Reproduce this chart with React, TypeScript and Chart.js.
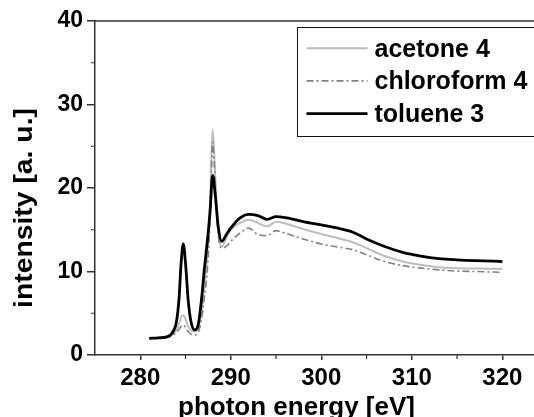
import React, { useEffect, useRef } from "react";
import { Chart, registerables } from "chart.js";

Chart.register(...registerables);

const energies = [281, 282, 283, 283.5, 284, 284.3, 284.5, 284.75, 285, 285.3, 285.6, 286, 286.4, 286.8, 287.1, 287.4, 287.7, 288, 288.3, 288.6, 289, 289.5, 290, 291, 292, 293, 294, 295, 296, 298, 300, 302, 303.5, 305, 307, 309, 311, 313, 315, 317, 320];
const acetone = [2.0, 2.05, 2.15, 2.4, 3.0, 3.8, 4.5, 4.8, 4.3, 3.4, 2.95, 2.8, 3.2, 5.5, 8.5, 12.0, 18.0, 27.0, 21.0, 15.0, 13.0, 14.0, 15.0, 15.8, 16.2, 15.8, 15.4, 15.95, 15.75, 15.1, 14.5, 13.95, 13.5, 12.8, 11.85, 11.2, 10.8, 10.5, 10.4, 10.35, 10.3];
const chloroform = [2.0, 2.0, 2.1, 2.3, 2.7, 3.1, 3.4, 3.6, 3.3, 2.8, 2.5, 2.4, 2.7, 4.5, 7.0, 10.0, 16.0, 25.5, 20.0, 14.5, 12.8, 13.0, 13.6, 14.6, 15.2, 14.4, 14.3, 14.9, 14.6, 13.9, 13.3, 12.9, 12.6, 12.0, 11.2, 10.7, 10.4, 10.2, 10.05, 10.0, 9.9];
const toluene = [2.0, 2.05, 2.2, 2.6, 4.0, 7.0, 10.8, 13.3, 11.0, 6.5, 4.0, 3.0, 3.6, 7.0, 10.5, 13.5, 17.0, 21.5, 19.0, 15.5, 13.6, 14.4, 15.2, 16.4, 16.85, 16.7, 16.25, 16.56, 16.45, 15.97, 15.57, 15.15, 14.7, 13.9, 13.0, 12.3, 11.85, 11.55, 11.4, 11.3, 11.2];

const seriesLabels = ["acetone 4", "chloroform 4", "toluene 3"];
const xTicks = [280, 290, 300, 310, 320];
const xMinorTicks = [285, 295, 305, 315];
const yTicks = [0, 10, 20, 30, 40];
const yMinorTicks = [5, 15, 25, 35];
const xTitle = "photon energy [eV]";
const yTitle = "intensity [a. u.]";

const FONT = '"Liberation Sans", Arial, sans-serif';
const AXIS = "#333";

const framePlugin = {
  id: "frame",
  afterDraw(chart: any) {
    const ctx = chart.ctx;
    const { left, right, top, bottom } = chart.chartArea;
    const xs = chart.scales.x;
    const ys = chart.scales.y;
    ctx.save();
    // top frame line
    ctx.strokeStyle = AXIS;
    ctx.lineWidth = 1.5;
    ctx.beginPath();
    ctx.moveTo(left, top);
    ctx.lineTo(right, top);
    ctx.stroke();
    // minor ticks
    ctx.lineWidth = 1.2;
    ctx.beginPath();
    xMinorTicks.forEach((v) => {
      const px = xs.getPixelForValue(v);
      ctx.moveTo(px, bottom);
      ctx.lineTo(px, bottom + 4);
    });
    yMinorTicks.forEach((v) => {
      const py = ys.getPixelForValue(v);
      ctx.moveTo(left - 4, py);
      ctx.lineTo(left, py);
    });
    ctx.stroke();
    // axis titles
    ctx.fillStyle = "#000";
    ctx.textAlign = "center";
    ctx.textBaseline = "alphabetic";
    ctx.save();
    ctx.translate(left + 201.5, chart.height - 2);
    ctx.scale(1.04, 1);
    ctx.font = `bold 25px ${FONT}`;
    ctx.fillText(xTitle, 0, 0);
    ctx.restore();
    ctx.save();
    ctx.translate(31.5, top + 187);
    ctx.rotate(-Math.PI / 2);
    ctx.scale(1.09, 1);
    ctx.font = `bold 26px ${FONT}`;
    ctx.fillText(yTitle, 0, 0);
    ctx.restore();
    // legend
    const bx = left + 202.5;
    const by = top + 6.5;
    const bh = 109;
    ctx.fillStyle = "#fff";
    ctx.fillRect(bx, by, chart.width - bx + 10, bh);
    ctx.strokeStyle = "#111";
    ctx.lineWidth = 1;
    ctx.strokeRect(bx, by, chart.width - bx + 10, bh);
    ctx.font = `bold 25px ${FONT}`;
    ctx.textAlign = "left";
    chart.data.datasets.forEach((ds: any, i: number) => {
      const base = by + 29 + i * 32.7;
      const ly = base - 8.3;
      ctx.save();
      ctx.strokeStyle = ds.borderColor;
      ctx.lineWidth = ds.borderWidth;
      ctx.setLineDash(ds.borderDash || []);
      ctx.beginPath();
      ctx.moveTo(bx + 9, ly);
      ctx.lineTo(bx + 70, ly);
      ctx.stroke();
      ctx.restore();
      ctx.fillStyle = "#000";
      ctx.fillText(ds.label, bx + 77, base);
    });
    ctx.restore();
  },
};

function toPoints(vals: number[]) {
  return energies.map((e, i) => ({ x: e, y: vals[i] }));
}

export default function App() {
  const canvasRef = useRef<HTMLCanvasElement | null>(null);

  useEffect(() => {
    if (!canvasRef.current) return;
    const chart = new Chart(canvasRef.current, {
      type: "line",
      data: {
        datasets: [
          {
            label: seriesLabels[0],
            data: toPoints(acetone),
            borderColor: "#bdbdbd",
            borderWidth: 2,
            pointRadius: 0,
            cubicInterpolationMode: "monotone",
            order: 2,
          },
          {
            label: seriesLabels[1],
            data: toPoints(chloroform),
            borderColor: "#808080",
            borderWidth: 1.6,
            borderDash: [7, 3, 2, 3],
            pointRadius: 0,
            cubicInterpolationMode: "monotone",
            order: 1,
          },
          {
            label: seriesLabels[2],
            data: toPoints(toluene),
            borderColor: "#000",
            borderWidth: 2.8,
            pointRadius: 0,
            cubicInterpolationMode: "monotone",
            order: 0,
          },
        ],
      },
      options: {
        animation: false,
        responsive: true,
        maintainAspectRatio: false,
        layout: { padding: { top: 21, left: 0, right: 0, bottom: 0 } },
        plugins: { legend: { display: false }, tooltip: { enabled: false } },
        scales: {
          x: {
            type: "linear",
            min: 275,
            max: 323.5,
            afterFit: (s: any) => {
              s.height = 62;
            },
            afterBuildTicks: (s: any) => {
              s.ticks = xTicks.map((v) => ({ value: v }));
            },
            grid: { drawOnChartArea: false, drawTicks: true, tickLength: 5, color: AXIS, lineWidth: 1.5 },
            border: { display: true, color: AXIS, width: 1.5 },
            ticks: { color: "#000", padding: 4, autoSkip: false, maxRotation: 0, font: { family: "Liberation Sans", size: 24, weight: "bold" } },
          },
          y: {
            type: "linear",
            min: 0,
            max: 40,
            afterFit: (s: any) => {
              s.width = 95;
            },
            afterBuildTicks: (s: any) => {
              s.ticks = yTicks.map((v) => ({ value: v }));
            },
            grid: { drawOnChartArea: false, drawTicks: true, tickLength: 8, color: AXIS, lineWidth: 1.5 },
            border: { display: true, color: AXIS, width: 1.5 },
            ticks: { color: "#000", padding: 4, font: { family: "Liberation Sans", size: 23, weight: "bold" } },
          },
        },
      },
      plugins: [framePlugin],
    } as any);
    return () => chart.destroy();
  }, []);

  return (
    <div style={{ position: "fixed", left: 0, top: 0, width: 534, height: 417, background: "#fff" }}>
      <canvas ref={canvasRef} />
    </div>
  );
}
